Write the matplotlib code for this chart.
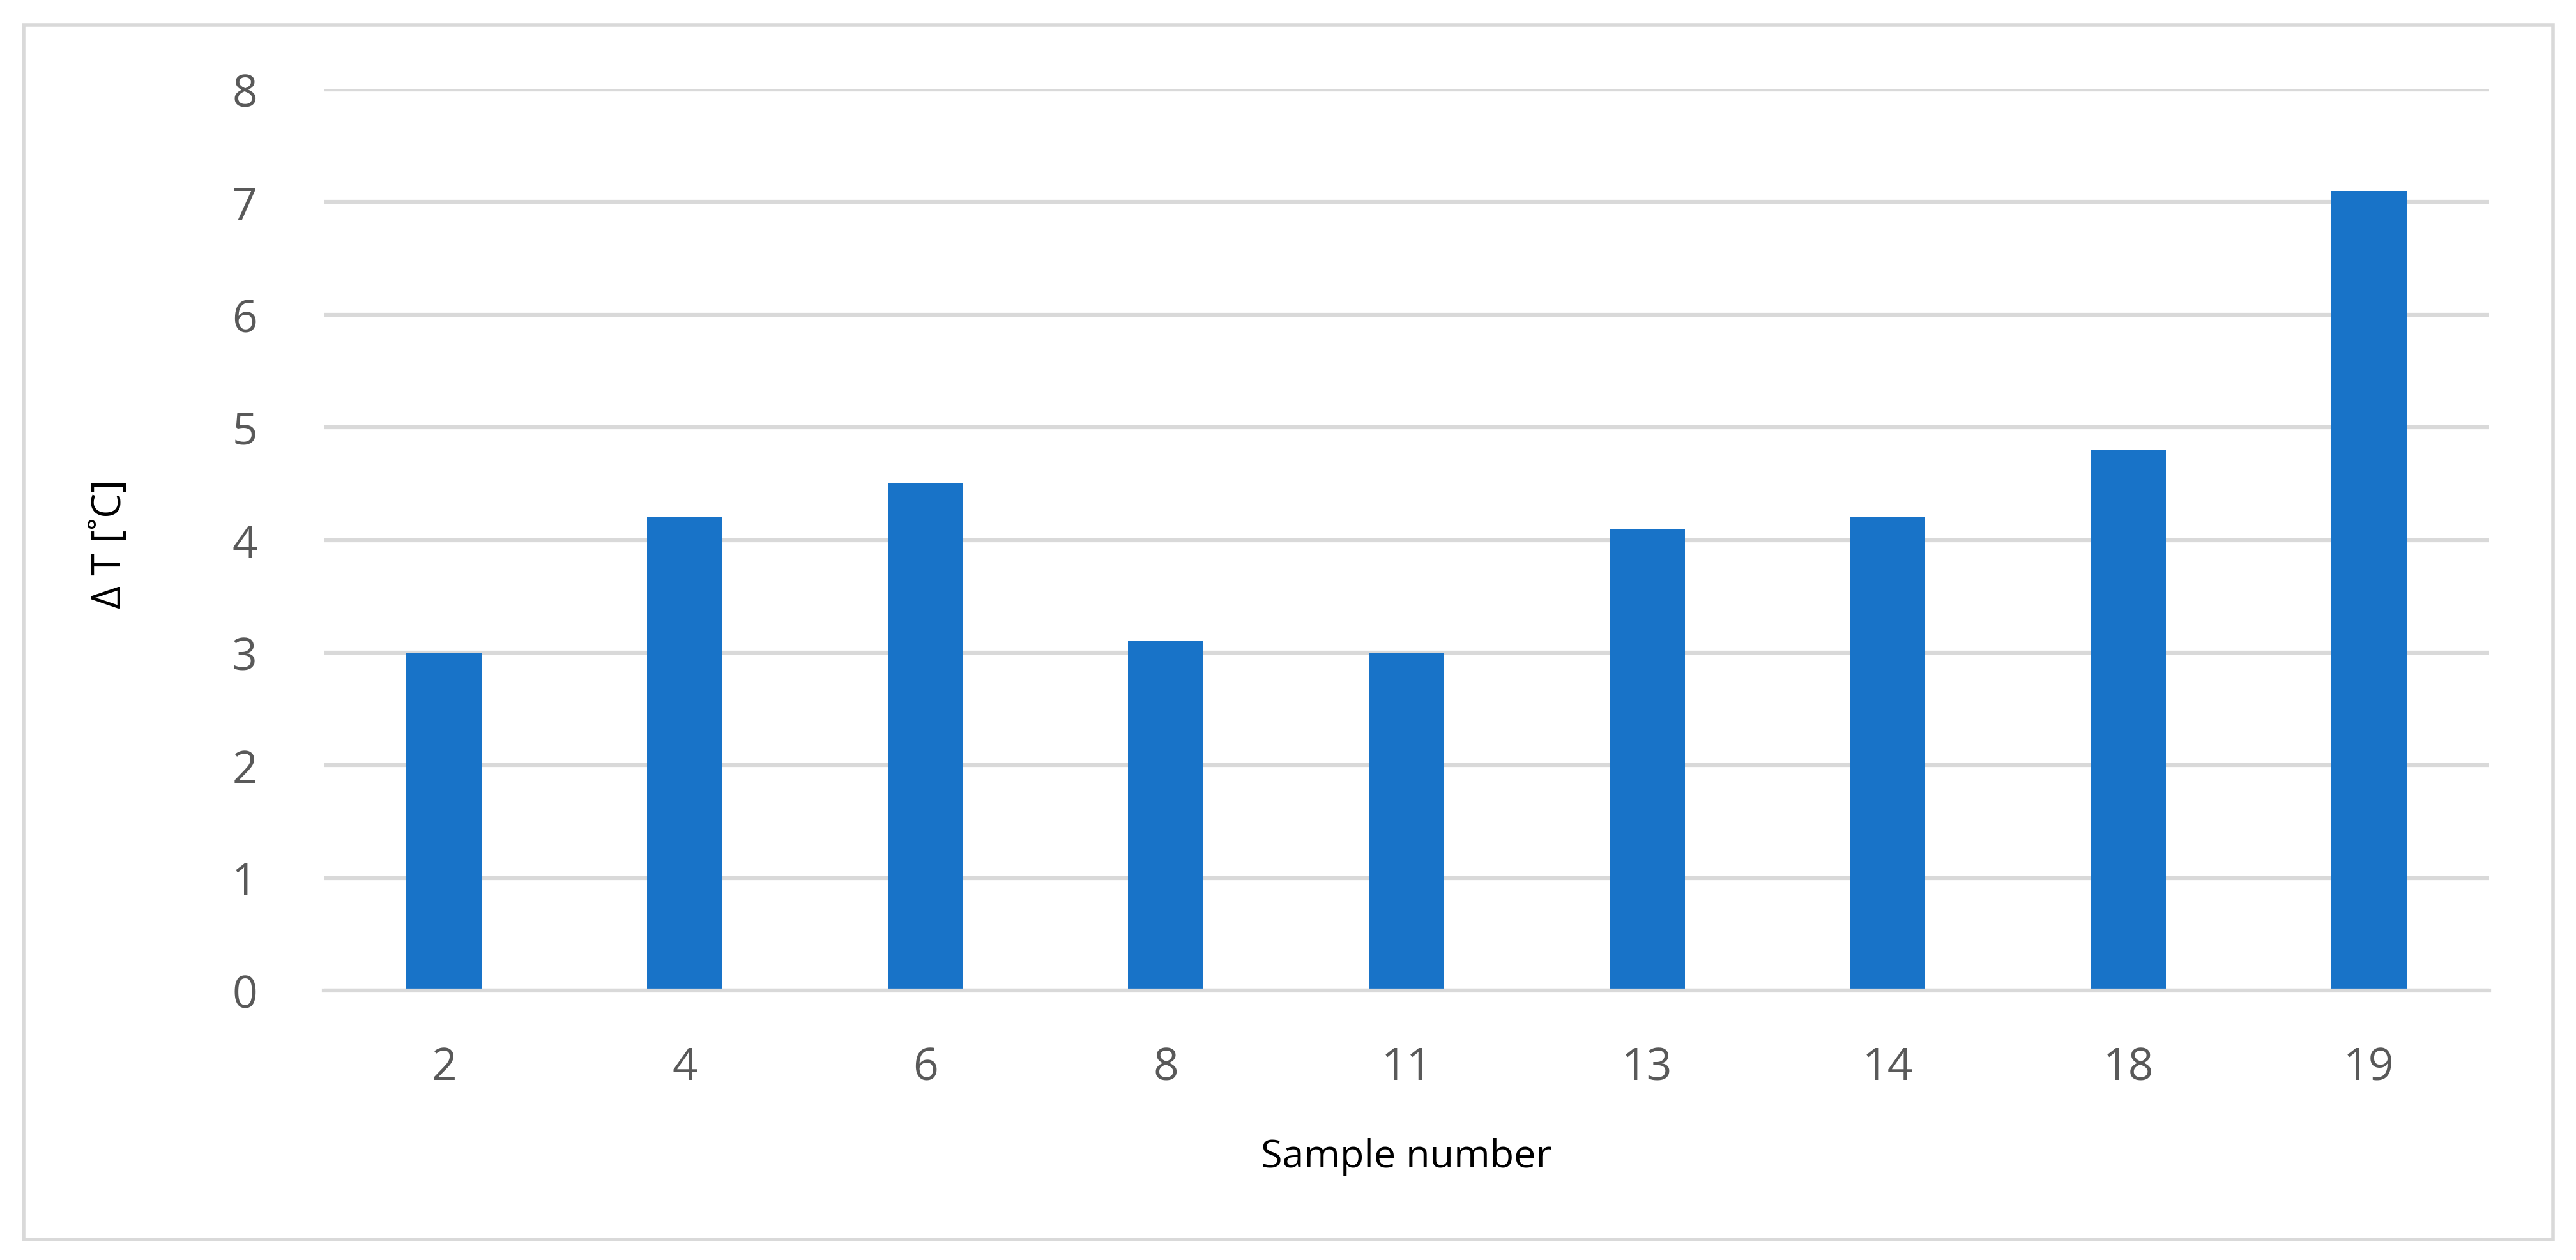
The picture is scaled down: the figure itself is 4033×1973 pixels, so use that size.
import matplotlib
matplotlib.use("Agg")
import matplotlib.pyplot as plt
from matplotlib.patches import Rectangle

categories = ["2", "4", "6", "8", "11", "13", "14", "18", "19"]
delta_t = [3.0, 4.2, 4.5, 3.1, 3.0, 4.1, 4.2, 4.8, 7.1]
y_ticks = [0, 1, 2, 3, 4, 5, 6, 7, 8]

W, H = 4033, 1974
dpi = 100
fig = plt.figure(figsize=(W / dpi, H / dpi), dpi=dpi)
fig.patch.set_facecolor("white")

plt.rcParams['font.family'] = ['Open Sans', 'DejaVu Sans']

# plot area in pixels
x0, x1 = 507, 3897
y0, y1 = 1552, 141  # 0 and 8
ax = fig.add_axes([x0 / W, 1 - y0 / H, (x1 - x0) / W, (y0 - y1) / H])

x = list(range(len(categories)))
ax.bar(x, delta_t, width=0.313, color="#1873C8", zorder=3)
ax.set_xlim(-0.5, len(categories) - 0.5)
ax.set_ylim(0, 8)
ax.set_yticks(y_ticks)
ax.set_xticks(x)
ax.set_xticklabels(categories)

for s in ["top", "right", "left"]:
    ax.spines[s].set_visible(False)
ax.spines["bottom"].set_color("#D9D9D9")
ax.spines["bottom"].set_linewidth(4.5)
ax.spines["bottom"].set_zorder(4)

ax.grid(axis="y", color="#D9D9D9", linewidth=4.5, zorder=0)
ax.set_axisbelow(True)
ax.tick_params(axis="both", length=0, labelsize=50, labelcolor="#595959")
ax.tick_params(axis="x", pad=62)
ax.tick_params(axis="y", pad=75)

ax.set_xlabel("Sample number", fontsize=44, color="black")
ax.xaxis.set_label_coords(0.5, -(1782 - y0) / (y0 - y1))
ax.set_ylabel("Δ T [˚C]", fontsize=45, color="black")
ax.yaxis.set_label_coords(-(x0 - 204) / (x1 - x0), (y0 - 852) / (y0 - y1))

# outer frame
fig.patches.append(Rectangle((37 / W, 1 - 1942 / H), (3997 - 37) / W, (1942 - 40) / H,
                             transform=fig.transFigure, fill=False,
                             edgecolor="#D9D9D9", linewidth=4))

fig.savefig("out.png", dpi=dpi, facecolor="white")
